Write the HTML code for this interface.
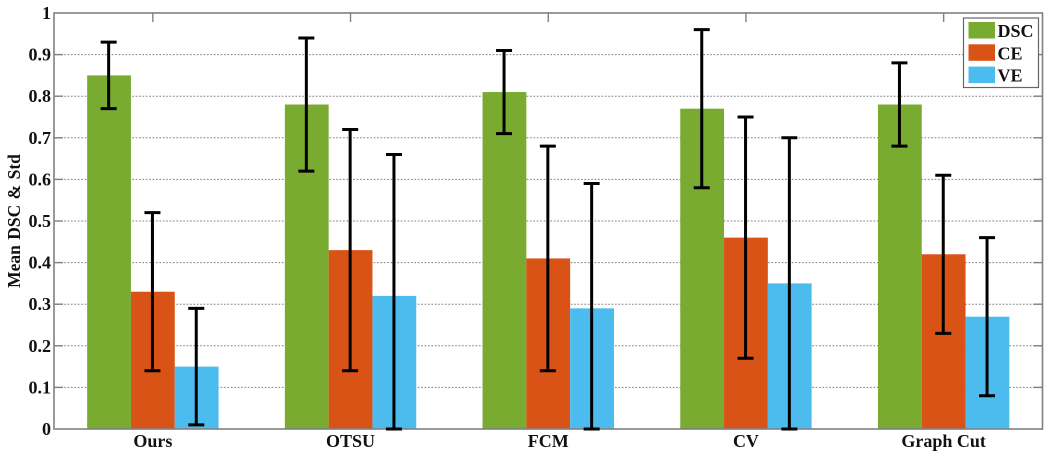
<!DOCTYPE html>
<html>
<head>
<meta charset="utf-8">
<style>
html,body{margin:0;padding:0;background:#fff;width:1050px;height:460px;overflow:hidden}
svg{display:block;filter:blur(0.3px)}
text{font-family:"Liberation Serif",serif;font-weight:bold;fill:#111}
</style>
</head>
<body>
<svg id="chart" width="1050" height="460" viewBox="0 0 1050 460" xmlns="http://www.w3.org/2000/svg"></svg>
<script>
const categories = ['Ours', 'OTSU', 'FCM', 'CV', 'Graph Cut'];
const seriesNames = ['DSC', 'CE', 'VE'];
const dscValues = [0.85, 0.78, 0.81, 0.77, 0.78];
const ceValues = [0.33, 0.43, 0.41, 0.46, 0.42];
const veValues = [0.15, 0.32, 0.29, 0.35, 0.27];
const dscLower = [0.77, 0.62, 0.71, 0.58, 0.68];
const dscUpper = [0.93, 0.94, 0.91, 0.96, 0.88];
const ceLower = [0.14, 0.14, 0.14, 0.17, 0.23];
const ceUpper = [0.52, 0.72, 0.68, 0.75, 0.61];
const veLower = [0.01, 0, 0, 0, 0.08];
const veUpper = [0.29, 0.66, 0.59, 0.70, 0.46];
const yTicks = [0, 0.1, 0.2, 0.3, 0.4, 0.5, 0.6, 0.7, 0.8, 0.9, 1];
const yTickLabels = ['0', '0.1', '0.2', '0.3', '0.4', '0.5', '0.6', '0.7', '0.8', '0.9', '1'];

const svg = document.getElementById('chart');
const NS = 'http://www.w3.org/2000/svg';
const plot = {left: 54, right: 1042.5, top: 13, bottom: 429};
const colors = ['#78ab30', '#da5316', '#4cbcee'];
const seriesVals = [dscValues, ceValues, veValues];
const seriesLow = [dscLower, ceLower, veLower];
const seriesHigh = [dscUpper, ceUpper, veUpper];
const xBand = (plot.right - plot.left) / categories.length;
const barW = 43.8;

function xCenter(i) { return plot.left + xBand * (i + 0.5); }
function yScale(v) { return plot.bottom - v * (plot.bottom - plot.top); }
function make(tag, attrs, parent) {
  const el = document.createElementNS(NS, tag);
  for (const k in attrs) el.setAttribute(k, attrs[k]);
  (parent || svg).appendChild(el);
  return el;
}

// grid lines
yTicks.forEach(function (t, i) {
  if (t === 0 || t === 1) return;
  const g = make('line', {x1: plot.left, x2: plot.right, y1: yScale(t), y2: yScale(t), stroke: '#808080', 'stroke-width': 1, 'stroke-dasharray': '1.7 1.7'});
  
  
});

// bars
seriesVals.forEach(function (vals, s) {
  vals.forEach(function (v, i) {
    const x = xCenter(i) + (s - 1.5) * barW;
    const b = make('rect', {x: x, y: yScale(v), width: barW, height: plot.bottom - yScale(v), fill: colors[s]});
    
    
  });
});

// axis box
const box = make('rect', {x: plot.left, y: plot.top, width: plot.right - plot.left, height: plot.bottom - plot.top, fill: 'none', stroke: '#808080', 'stroke-width': 1.6});



// y ticks and labels
yTicks.forEach(function (t, i) {
  const y = yScale(t);
  if (t !== 0 && t !== 1) {
    const l = make('line', {x1: plot.left, x2: plot.left + 9, y1: y, y2: y, stroke: '#808080', 'stroke-width': 1.4});
    
    
    const r = make('line', {x1: plot.right - 9, x2: plot.right, y1: y, y2: y, stroke: '#808080', 'stroke-width': 1.4});
    
    
  }
  const txt = make('text', {x: 51, y: y + 6, 'text-anchor': 'end', 'font-size': 18});
  txt.textContent = yTickLabels[i];
  
  
});

// x ticks and labels
categories.forEach(function (c, i) {
  const x = xCenter(i);
  const tk = make('line', {x1: x, x2: x, y1: plot.top, y2: plot.top + 9, stroke: '#808080', 'stroke-width': 1.4});
  
  
  const txt = make('text', {x: x, y: 447, 'text-anchor': 'middle', 'font-size': 18});
  txt.textContent = c;
  
  
});

// error bars
seriesVals.forEach(function (vals, s) {
  vals.forEach(function (v, i) {
    const x = xCenter(i) + (s - 1) * barW - 0.4;
    const yHi = yScale(seriesHigh[s][i]);
    const yLo = yScale(seriesLow[s][i]);
    const g = make('g', {stroke: '#000', 'stroke-width': 3, fill: 'none'});
    
    
    make('line', {x1: x, x2: x, y1: yHi, y2: yLo}, g);
    make('line', {x1: x - 8, x2: x + 8, y1: yHi, y2: yHi}, g);
    make('line', {x1: x - 8, x2: x + 8, y1: yLo, y2: yLo}, g);
  });
});

// y-axis title
const yt = make('text', {x: 20, y: 221, 'text-anchor': 'middle', 'font-size': 17.5, transform: 'rotate(-90 20 221)', 'word-spacing': '1'});
yt.textContent = 'Mean DSC & Std';



// legend
const legend = make('g', {});


make('rect', {x: 963.5, y: 18, width: 75, height: 69.5, fill: '#fff', stroke: '#666', 'stroke-width': 1.2}, legend);
seriesNames.forEach(function (n, s) {
  const entry = make('g', {}, legend);
  
  
  const rowY = 22 + s * 22.3;
  make('rect', {x: 968.5, y: rowY, width: 26.5, height: 16.5, fill: colors[s]}, entry);
  const t = make('text', {x: 997.5, y: rowY + 15, 'font-size': 18}, entry);
  t.textContent = n;
});
</script>
</body>
</html>
